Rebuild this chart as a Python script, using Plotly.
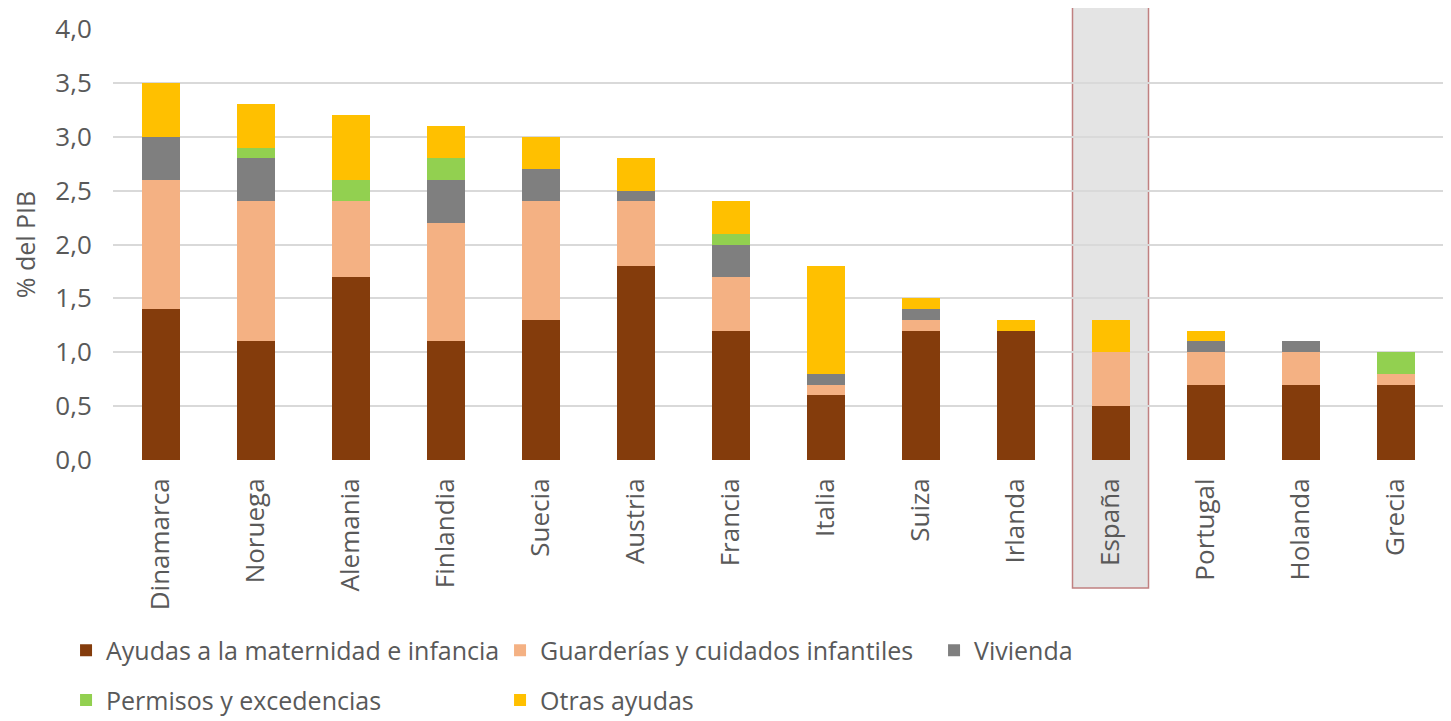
import plotly.graph_objects as go

# Gasto público en familia por país (% del PIB)
paises = ["Dinamarca", "Noruega", "Alemania", "Finlandia", "Suecia", "Austria", "Francia",
          "Italia", "Suiza", "Irlanda", "España", "Portugal", "Holanda", "Grecia"]

maternidad = [1.4, 1.1, 1.7, 1.1, 1.3, 1.8, 1.2, 0.6, 1.2, 1.2, 0.5, 0.7, 0.7, 0.7]
guarderias = [1.2, 1.3, 0.7, 1.1, 1.1, 0.6, 0.5, 0.1, 0.1, 0.0, 0.5, 0.3, 0.3, 0.1]
vivienda = [0.4, 0.4, 0.0, 0.4, 0.3, 0.1, 0.3, 0.1, 0.1, 0.0, 0.0, 0.1, 0.1, 0.0]
permisos = [0.0, 0.1, 0.2, 0.2, 0.0, 0.0, 0.1, 0.0, 0.0, 0.0, 0.0, 0.0, 0.0, 0.2]
otras = [0.5, 0.4, 0.6, 0.3, 0.3, 0.3, 0.3, 1.0, 0.1, 0.1, 0.3, 0.1, 0.0, 0.0]

series = [
    ("Ayudas a la maternidad e infancia", maternidad, "#843C0C", "legend"),
    ("Guarderías y cuidados infantiles", guarderias, "#F4B183", "legend"),
    ("Vivienda", vivienda, "#7F7F7F", "legend"),
    ("Permisos y excedencias", permisos, "#92D050", "legend2"),
    ("Otras ayudas", otras, "#FFC000", "legend2"),
]

FONT = "Open Sans"
GRIS = "#595959"

fig = go.Figure()
for nombre, valores, color, leyenda in series:
    fig.add_trace(go.Bar(
        x=paises, y=valores, name=nombre, legend=leyenda,
        marker=dict(color=color, line=dict(width=0)),
    ))

# resaltar España
i_esp = paises.index("España")
fig.add_shape(type="rect", xref="x", yref="paper",
              x0=i_esp - 0.4, x1=i_esp + 0.4, y0=-0.297, y1=1.063,
              fillcolor="#E4E4E4", line=dict(color="#C08080", width=1.5),
              layer="below")

leg = dict(orientation="h", xref="container", yref="container",
           xanchor="left", yanchor="middle", x=0.040,
           font=dict(family=FONT, size=25, color=GRIS),
           entrywidth=389, entrywidthmode="pixels",
           bgcolor="rgba(0,0,0,0)", traceorder="normal")

fig.update_layout(
    width=1451, height=721,
    barmode="stack", bargap=0.6,
    separators=", ",
    plot_bgcolor="white", paper_bgcolor="white",
    margin=dict(l=105, r=16, t=21, b=269, autoexpand=False),
    font=dict(family=FONT, color=GRIS),
    legend=dict(leg, y=0.109),
    legend2=dict(leg, y=0.040),
    xaxis=dict(
        tickangle=-90, tickfont=dict(family=FONT, size=26, color=GRIS),
        showline=False, showgrid=False, ticks="outside", ticklen=7,
        tickcolor="rgba(0,0,0,0)",
    ),
    yaxis=dict(
        range=[0, 4], dtick=0.5, tickformat=".1f",
        tickfont=dict(family=FONT, size=26, color=GRIS),
        gridcolor="#D9D9D9", gridwidth=2, zeroline=False,
        ticks="outside", ticklen=15, tickcolor="rgba(0,0,0,0)",
        title=dict(text="% del PIB", font=dict(family=FONT, size=25, color=GRIS), standoff=12),
    ),
)

fig.write_html("out.html")
